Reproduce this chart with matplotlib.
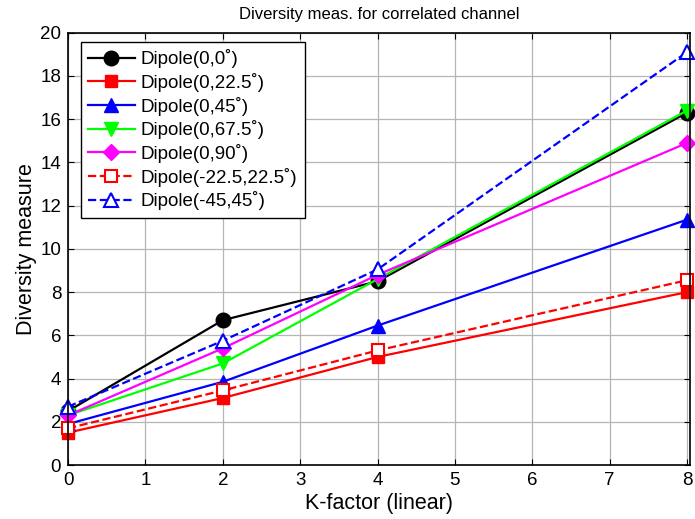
import matplotlib.pyplot as plt

plt.rcParams['font.family'] = ['Liberation Sans', 'DejaVu Sans']

# K-factor values
k_factor = [0, 2, 4, 8]

# Diversity measure per antenna configuration
dip_0_0 = [2.5, 6.7, 8.5, 16.3]
dip_0_225 = [1.5, 3.1, 5.0, 8.0]
dip_0_45 = [1.9, 3.85, 6.45, 11.35]
dip_0_675 = [2.3, 4.7, 8.6, 16.4]
dip_0_90 = [2.3, 5.4, 8.8, 14.9]
dip_m225_225 = [1.7, 3.45, 5.3, 8.55]
dip_m45_45 = [2.7, 5.75, 9.05, 19.1]

labels = ['Dipole(0,0˚)', 'Dipole(0,22.5˚)', 'Dipole(0,45˚)', 'Dipole(0,67.5˚)',
          'Dipole(0,90˚)', 'Dipole(-22.5,22.5˚)', 'Dipole(-45,45˚)']

fig = plt.figure(figsize=(6.95, 5.19), dpi=100)
ax = fig.add_axes([0.098, 0.104, 0.895, 0.833])

ax.plot(k_factor, dip_0_0, '-o', color='black', lw=1.6, ms=10.5, label=labels[0], clip_on=False)
ax.plot(k_factor, dip_0_225, '-s', color='red', lw=1.6, ms=8.5, label=labels[1], clip_on=False)
ax.plot(k_factor, dip_0_45, '-^', color='blue', lw=1.6, ms=10.5, label=labels[2], clip_on=False)
ax.plot(k_factor, dip_0_675, '-v', color='lime', lw=1.6, ms=10.5, label=labels[3], clip_on=False)
ax.plot(k_factor, dip_0_90, '-D', color='magenta', lw=1.6, ms=8, label=labels[4], clip_on=False)
ax.plot(k_factor, dip_m225_225, '--s', color='red', lw=1.6, ms=8.5, mfc='white',
        mew=1.5, label=labels[5], clip_on=False)
ax.plot(k_factor, dip_m45_45, '--^', color='blue', lw=1.6, ms=10.5, mfc='white',
        mew=1.5, label=labels[6], clip_on=False)

ax.set_xlim(0, 8.04)
ax.set_ylim(0, 20)
ax.set_xticks(range(0, 9))
ax.set_yticks(range(0, 21, 2))
ax.grid(True, color='#b5b5b5', lw=0.9)
ax.set_axisbelow(True)
ax.tick_params(direction='in', top=True, right=True, labelsize=13.5, length=4, pad=5)
for sp in ax.spines.values():
    sp.set_linewidth(1.2)

ax.set_xlabel('K-factor (linear)', fontsize=15.5, labelpad=3)
ax.set_ylabel('Diversity measure', fontsize=15.5, labelpad=2)
ax.set_title('Diversity meas. for correlated channel', fontsize=12, pad=10)

leg = ax.legend(loc='upper left', bbox_to_anchor=(0.02, 0.979), fontsize=13.5,
                fancybox=False, edgecolor='black', framealpha=1,
                handlelength=2.5, handletextpad=0.3, labelspacing=0.25,
                borderpad=0.4, borderaxespad=0)
leg.get_frame().set_linewidth(1.0)

fig.savefig('out.png', dpi=100)
